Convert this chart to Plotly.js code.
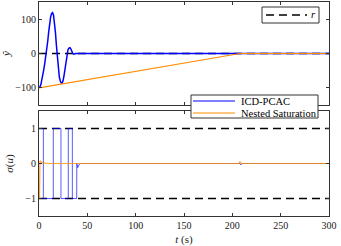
<!DOCTYPE html>
<html><head><meta charset="utf-8">
<script src="https://cdn.plot.ly/plotly-3.0.1.min.js"></script>
<style>html,body{margin:0;padding:0;background:#fff}#c{width:341px;height:246px}</style>
</head><body><div id="c"></div>
<script>
// top panel: tracking error
const tBlueTop = [0,1,2,3,4,5,6,7,8,9,10,11,12,13,14,15,16,17,18,19,20,21,22,23,24,25,26,27,28,29,30,31,32,33,34,35,36,37,38,300];
const yBlueTop = [-100,-97,-90,-78,-63,-46,-28,-10,8,35,62,88,106,116,119,112,92,62,24,-14,-45,-68,-80,-86,-86,-78,-62,-40,-18,0,11,16,17,13,6,0,-2,-1,0,0];
const tOrangeTop = [0,208,300];
const yOrangeTop = [-100,0,0];
const tRef = [0,300];
const yRef = [0,0];
// bottom panel: saturated control
const tBlueBot = [0,4.5,4.5,14.8,14.8,22.7,22.7,30.3,30.3,34.5,34.5,39,39.1,40,41.5,43,208,209,210,300];
const uBlueBot = [1,1,-1,-1,1,1,-1,-1,1,1,-1,-1,0,-0.12,-0.03,0,0,-0.04,0,0];
const tOrangeBot = [0,0.5,1,3,6,10,207,208,209,300];
const uOrangeBot = [-1,-1,0.08,0.03,0.01,0,0,0.06,0,0];
const yBoundUp = [1,1];
const yBoundLo = [-1,-1];
const xTicks = [0,50,100,150,200,250,300];
const legendNames = ['ICD-PCAC','Nested Saturation'];

const fontFam = 'serif';
const dash = '8px,5px';
const BLUE = '#0000ff', ORANGE = '#ff8c00';
const data = [
  {x:tRef, y:yRef, xaxis:'x', yaxis:'y', mode:'lines', line:{color:'#000', width:1.5, dash:dash}},
  {x:tBlueTop, y:yBlueTop, xaxis:'x', yaxis:'y', mode:'lines', line:{color:BLUE, width:1.5}},
  {x:tOrangeTop, y:yOrangeTop, xaxis:'x', yaxis:'y', mode:'lines', line:{color:ORANGE, width:1.2}},
  {x:tRef, y:yBoundUp, xaxis:'x2', yaxis:'y2', mode:'lines', line:{color:'#000', width:1.5, dash:dash}},
  {x:tRef, y:yBoundLo, xaxis:'x2', yaxis:'y2', mode:'lines', line:{color:'#000', width:1.5, dash:dash}},
  {x:tBlueBot, y:uBlueBot, xaxis:'x2', yaxis:'y2', mode:'lines', line:{color:BLUE, width:1}, opacity:0.65},
  {x:tOrangeBot, y:uOrangeBot, xaxis:'x2', yaxis:'y2', mode:'lines', line:{color:ORANGE, width:1.2}, opacity:0.8}
];
const ax = {
  range:[0,300], showline:true, mirror:'ticks', linecolor:'#333', linewidth:1,
  ticks:'inside', ticklen:3, tickcolor:'#333', showgrid:false, zeroline:false,
  tickfont:{family:fontFam, size:10, color:'#222'}
};
// pixel -> paper helpers for the hand-drawn legend boxes
const L0=39, W0=290, B0=216, H0=214;
const px = v => (v-L0)/W0, py = v => (B0-v)/H0;
const shapes = [
  {type:'rect', xref:'paper', yref:'paper', x0:px(262), x1:px(319), y0:py(23), y1:py(7), line:{color:'#333', width:1}, fillcolor:'#fff', layer:'above'},
  {type:'line', xref:'paper', yref:'paper', x0:px(266), x1:px(307), y0:py(15), y1:py(15), line:{color:'#000', width:1.5, dash:dash}, layer:'above'},
  {type:'rect', xref:'paper', yref:'paper', x0:px(191), x1:px(318), y0:py(118), y1:py(95), line:{color:'#333', width:1}, fillcolor:'#fff', layer:'above'},
  {type:'line', xref:'paper', yref:'paper', x0:px(193), x1:px(235), y0:py(101), y1:py(101), line:{color:BLUE, width:1}, layer:'above'},
  {type:'line', xref:'paper', yref:'paper', x0:px(193), x1:px(235), y0:py(113), y1:py(113), line:{color:ORANGE, width:1}, layer:'above'}
];
const annotations = [
  {xref:'paper', yref:'paper', x:px(309), y:py(15), xanchor:'left', yanchor:'middle', text:'<i>r</i>', showarrow:false, font:{family:fontFam, size:10.5, color:'#000'}},
  {xref:'paper', yref:'paper', x:px(239), y:py(101), xanchor:'left', yanchor:'middle', text:legendNames[0], showarrow:false, font:{family:fontFam, size:10.5, color:'#000'}},
  {xref:'paper', yref:'paper', x:px(239), y:py(113), xanchor:'left', yanchor:'middle', text:legendNames[1], showarrow:false, font:{family:fontFam, size:10.5, color:'#000'}}
];
const layout = {
  width:341, height:246, margin:{l:39, r:12, t:2, b:30}, showlegend:false,
  paper_bgcolor:'#fff', plot_bgcolor:'#fff', font:{family:fontFam, size:10, color:'#222'},
  xaxis: Object.assign({}, ax, {domain:[0,1], anchor:'y', tickvals:xTicks, showticklabels:false}),
  yaxis: Object.assign({}, ax, {domain:[0.5187,1], anchor:'x', range:[-150,150], tickvals:[-100,0,100],
    title:{text:'<i>ỹ</i>', font:{family:fontFam, size:11}, standoff:5}}),
  xaxis2: Object.assign({}, ax, {domain:[0,1], anchor:'y2', tickvals:xTicks,
    title:{text:'<i>t</i> (s)', font:{family:fontFam, size:11}, standoff:5}}),
  yaxis2: Object.assign({}, ax, {domain:[0,0.4907], anchor:'x2', range:[-1.5,1.5], tickvals:[-1,0,1],
    title:{text:'<i>σ</i>(<i>u</i>)', font:{family:fontFam, size:11}, standoff:9}}),
  shapes:shapes, annotations:annotations
};
Plotly.newPlot('c', data, layout, {displayModeBar:false, staticPlot:true});
</script></body></html>
